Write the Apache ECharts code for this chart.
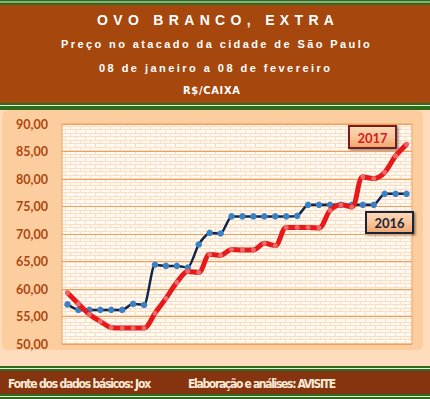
<!DOCTYPE html>
<html>
<head>
<meta charset="utf-8">
<script src="https://cdn.jsdelivr.net/npm/echarts@6/dist/echarts.min.js"></script>
<style>
  html, body { margin: 0; padding: 0; background: #FEDCBC; }
  #chart { width: 430px; height: 399px; }
</style>
</head>
<body>
<div id="chart"></div>
<script>
// dias de 08/01 a 08/02
const dias = [
  "08/01", "09/01", "10/01", "11/01", "12/01", "13/01", "14/01", "15/01",
  "16/01", "17/01", "18/01", "19/01", "20/01", "21/01", "22/01", "23/01",
  "24/01", "25/01", "26/01", "27/01", "28/01", "29/01", "30/01", "31/01",
  "01/02", "02/02", "03/02", "04/02", "05/02", "06/02", "07/02", "08/02"
];

// R$/caixa
const preco2016 = [
  57.2, 56.2, 56.2, 56.2, 56.2, 56.2, 57.3, 57.1,
  64.4, 64.2, 64.2, 63.9, 68.1, 70.2, 70.1, 73.2,
  73.2, 73.2, 73.2, 73.2, 73.2, 73.3, 75.3, 75.3,
  75.3, 75.3, 75.3, 75.3, 75.3, 77.3, 77.3, 77.3
];
const preco2017 = [
  59.3, 57.3, 55.4, 54.1, 53.0, 52.9, 52.9, 52.9,
  55.6, 58.3, 61.2, 63.2, 63.0, 66.3, 66.1, 67.2,
  67.1, 67.1, 68.3, 67.9, 71.2, 71.2, 71.2, 71.1,
  74.3, 75.3, 74.9, 80.4, 80.1, 81.2, 84.2, 86.3
];

const eixoY = { min: 50, max: 90, passo: 5 };

const SANS = "'Liberation Sans', Arial, sans-serif";
const ESTREITA = "'DejaVu Sans Condensed', 'Liberation Sans', sans-serif";

// textos do cabeçalho e rodapé: [texto, fonte, largura alvo, x, y]
const cabecalho = [
  ["OVO BRANCO, EXTRA", "bold 14px " + SANS, 237, 215.5, 20],
  ["Preço no atacado da cidade de São Paulo", "bold 11px " + SANS, 309, 215.5, 44],
  ["08 de janeiro a 08 de fevereiro", "bold 11px " + SANS, 231, 214.5, 67.5],
  ["R$/CAIXA", "bold 11px " + ESTREITA, 57, 211.5, 90]
];
const rodape = [
  ["Fonte dos dados básicos: Jox", "bold 12px " + ESTREITA, 143, 8, 383.5],
  ["Elaboração e análises: AVISITE", "bold 12px " + ESTREITA, 148, 188, 383.5]
];

// mede o texto para achar o espaçamento entre letras
const medidor = document.createElement("canvas").getContext("2d");
const espacamento = {};
const textoGraphic = (linhas, cor, centrado) => linhas.map(([t, fonte, alvo, x, y]) => {
  medidor.font = fonte;
  const natural = medidor.measureText(t).width;
  espacamento[t] = (alvo - natural) / (t.length - 1);
  return {
    type: "text", z: 20,
    style: {
      text: t, font: fonte, fill: cor,
      x: centrado ? x - alvo / 2 : x, y: y,
      textAlign: "left", textVerticalAlign: "middle"
    }
  };
});

// fundo de tijolinhos da área de plotagem
const tijolo = document.createElement("canvas");
tijolo.width = 20; tijolo.height = 7;
const tc = tijolo.getContext("2d");
tc.fillStyle = "#FFF9F1"; tc.fillRect(0, 0, 20, 7);
tc.fillStyle = "#F9DEC4";
tc.fillRect(0, 0, 20, 1); tc.fillRect(0, 3, 20, 1);
tc.fillRect(0, 1, 1, 2); tc.fillRect(10, 1, 1, 2);
tc.fillRect(5, 4, 1, 3); tc.fillRect(15, 4, 1, 3);

const caixaLegenda = (texto, x, y, w, h, cor, borda) => ({
  type: "group", z: 50,
  children: [
    {
      type: "rect", shape: { x: x, y: y, width: w, height: h },
      style: {
        fill: new echarts.graphic.LinearGradient(0, 0, 0, 1, [
          { offset: 0, color: "#FCD9BA" }, { offset: 0.5, color: "#F9C69A" }, { offset: 1, color: "#F0A46C" }
        ]),
        stroke: borda, lineWidth: 2,
        shadowBlur: 2, shadowOffsetX: 1.5, shadowOffsetY: 1.5, shadowColor: "rgba(0,0,0,0.45)"
      }
    },
    {
      type: "text",
      style: {
        text: texto, x: x + w / 2, y: y + h / 2 + 0.5,
        font: "bold 13px Lato, sans-serif", fill: cor,
        textAlign: "center", textVerticalAlign: "middle"
      }
    }
  ]
});

const chart = echarts.init(document.getElementById("chart"), null, { renderer: "svg" });

const option = {
  animation: false,
  backgroundColor: "#FEDCBC",
  graphic: [
    // faixas verdes e marrons
    { type: "rect", z: -5, shape: { x: 0, y: 0, width: 430, height: 5 }, style: { fill: "#2E6B1F" } },
    { type: "rect", z: -5, shape: { x: 0, y: 1.5, width: 430, height: 1 }, style: { fill: "#E8F0DA" } },
    { type: "rect", z: -5, shape: { x: 0, y: 5, width: 430, height: 98 }, style: { fill: "#A6470D" } },
    { type: "rect", z: -5, shape: { x: 0, y: 103, width: 430, height: 7 }, style: { fill: "#2E6B1F" } },
    { type: "rect", z: -5, shape: { x: 0, y: 105, width: 430, height: 1 }, style: { fill: "#E8F0DA" } },
    { type: "rect", z: -5, shape: { x: 2, y: 110, width: 421, height: 240, r: 6 }, style: { fill: "#FCCE9F" } },
    { type: "rect", z: -5, shape: { x: 0, y: 366, width: 430, height: 5 }, style: { fill: "#2E6B1F" } },
    { type: "rect", z: -5, shape: { x: 0, y: 368, width: 430, height: 1 }, style: { fill: "#E8F0DA" } },
    { type: "rect", z: -5, shape: { x: 0, y: 371, width: 430, height: 23 }, style: { fill: "#863410" } },
    { type: "rect", z: -5, shape: { x: 0, y: 394, width: 430, height: 5 }, style: { fill: "#2E6B1F" } },
    { type: "rect", z: -5, shape: { x: 0, y: 396, width: 430, height: 1 }, style: { fill: "#E8F0DA" } },
    ...textoGraphic(cabecalho, "#FFFFFF", true),
    ...textoGraphic(rodape, "#FBEBD6", false),
    caixaLegenda("2017", 349, 126, 47, 22, "#D41E1E", "#7A1D1D"),
    caixaLegenda("2016", 366, 212, 47, 21, "#1B2438", "#1B2438")
  ],
  grid: {
    left: 62, right: 18, top: 124, bottom: 55,
    show: true,
    backgroundColor: { image: tijolo, repeat: "repeat" },
    borderColor: "#EFA160", borderWidth: 1
  },
  xAxis: {
    type: "category",
    data: dias,
    boundaryGap: true,
    axisLine: { show: false },
    axisTick: { show: false },
    axisLabel: { show: false }
  },
  yAxis: {
    type: "value",
    min: eixoY.min, max: eixoY.max, interval: eixoY.passo,
    axisLine: { show: false },
    axisTick: { show: false },
    axisLabel: {
      margin: 14,
      color: "#AE460F",
      fontFamily: "Lato, sans-serif", fontWeight: "bold", fontSize: 12.5,
      formatter: v => v.toFixed(2).replace(".", ",")
    },
    splitLine: { lineStyle: { color: "#EE9F58", width: 1.2 } }
  },
  series: [
    {
      name: "2016", type: "line", data: preco2016,
      smooth: 0.2,
      symbol: "circle", symbolSize: 6.5,
      lineStyle: { color: "#10264C", width: 2.5 },
      itemStyle: { color: "#3B82C4", borderWidth: 0 },
      z: 3
    },
    {
      name: "2017", type: "line", data: preco2017,
      smooth: 0.3,
      symbol: "circle", symbolSize: 5,
      lineStyle: { color: "#E8191B", width: 5, cap: "round", join: "round" },
      itemStyle: { color: "#EC6A6A", borderWidth: 0 },
      z: 4
    }
  ]
};

chart.setOption(option);

// espaçamento entre letras no SVG
const aplicarEspacamento = () => {
  document.querySelectorAll("#chart text").forEach(el => {
    const ls = espacamento[el.textContent];
    if (ls !== undefined) el.style.letterSpacing = ls.toFixed(2) + "px";
  });
};
chart.on("finished", aplicarEspacamento);
aplicarEspacamento();
setTimeout(aplicarEspacamento, 50);
</script>
</body>
</html>
